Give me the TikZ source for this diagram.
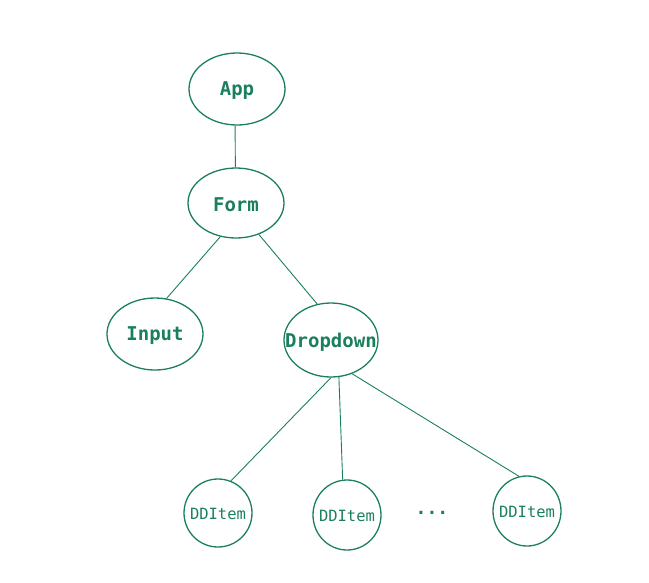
\documentclass[tikz,border=0pt]{standalone}
\usepackage{fontspec}
\setmonofont{DejaVu Sans Mono}
\usetikzlibrary{shapes.geometric}
\definecolor{ink}{RGB}{26,128,92}
\tikzset{
  comp/.style={ellipse, draw=ink, line width=1.3pt, inner sep=0pt},
  big/.style={text=ink, yshift=-2pt, font=\ttfamily\bfseries\fontsize{19}{21}\selectfont},
  small/.style={text=ink, yshift=-1pt, font=\ttfamily\fontsize{15.5}{17}\selectfont},
  link/.style={draw=ink, line width=0.9pt}
}
\begin{document}
\begin{tikzpicture}[x=1pt,y=-1pt]
\useasboundingbox (0,0) rectangle (649,582);
\node[comp, minimum width=96pt, minimum height=72pt, label={[big]center:App}] (app) at (237,89) {};
\node[comp, minimum width=96pt, minimum height=70pt, label={[big]center:Form}] (form) at (236,203) {};
\node[comp, minimum width=96pt, minimum height=72pt, label={[big]center:Input}] (input) at (155,334) {};
\node[comp, minimum width=94pt, minimum height=74pt, label={[big]center:Dropdown}] (dd) at (331,340) {};
\node[comp, minimum width=68pt, minimum height=68pt, label={[small]center:DDItem}] (i1) at (218,513) {};
\node[comp, minimum width=68pt, minimum height=70pt, label={[small]center:DDItem}] (i2) at (347,515) {};
\node[comp, minimum width=68pt, minimum height=70pt, label={[small]center:DDItem}] (i3) at (527,511) {};
\node[text=ink, font=\ttfamily\bfseries\fontsize{18}{20}\selectfont] (dots) at (432,513) {...};
\draw[link] (app.267) -- (form.91);
\draw[link] (form.245) -- (input.72);
\draw[link] (form.306) -- (dd.111);
\draw[link] (dd.270) -- (i1.68);
\draw[link] (dd.282) -- (i2.97);
\draw[link] (dd.302) -- (i3.103);
\end{tikzpicture}
\end{document}
